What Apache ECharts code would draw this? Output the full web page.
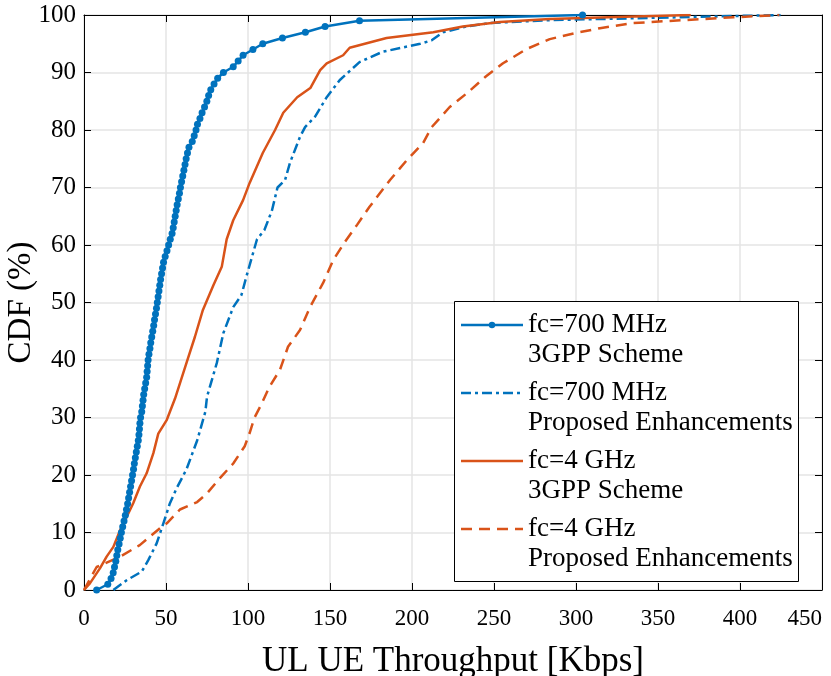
<!DOCTYPE html>
<html>
<head>
<meta charset="utf-8">
<script src="https://cdn.jsdelivr.net/npm/echarts@6/dist/echarts.min.js"></script>
<style>
html,body{margin:0;padding:0;background:#fff;}
#chart{width:831px;height:676px;}
</style>
</head>
<body>
<div id="chart"></div>
<script>
// ---- Data ----
const seriesNames = [
  'fc=700 MHz\n3GPP Scheme',
  'fc=700 MHz\nProposed Enhancements',
  'fc=4 GHz\n3GPP Scheme',
  'fc=4 GHz\nProposed Enhancements'
];

// fc=700 MHz, 3GPP Scheme (CDF level y in %, throughput x in Kbps)
const b3gppY = [0,1,2,3,4,5,6,7,8,9,10,11,12,13,14,15,16,17,18,19,20,21,22,23,24,25,26,27,28,29,30,31,32,33,34,35,36,37,38,39,40,41,42,43,44,45,46,47,48,49,50,51,52,53,54,55,56,57,58,59,60,61,62,63,64,65,66,67,68,69,70,71,72,73,74,75,76,77,78,79,80,81,82,83,84,85,86,87,88,89,90,91,92,93,94,95,96,97,98,99,100];
const b3gppX = [7.7,14.5,16.5,17.8,18.6,19.4,20,20.6,21.4,22.1,22.8,23.6,24.4,25.2,25.9,26.6,27.2,27.8,28.4,29,29.6,30.2,30.7,31.3,31.9,32.5,33.1,33.5,33.8,34.1,34.5,35.2,35.6,36,36.4,37,37.6,38.2,38.5,38.8,39.1,39.6,40.2,40.7,41.3,41.9,42.5,43,43.6,44.2,44.7,45.2,45.7,46.2,46.7,47.3,47.9,48.5,49.5,50.6,51.6,52.6,53.7,54.4,55,55.6,56.2,56.8,57.5,58.2,58.8,59.5,60.2,60.9,61.6,62.3,63.1,64,66,67.2,68.3,69.2,70.7,72,73.5,74.9,76,77.3,79.3,81.5,85,91,94,97,103,109,121,135,147,168,304];

// fc=700 MHz, Proposed Enhancements
const bPropX = [17.9,26,35.2,39.2,44.3,48.4,52.4,56.5,62.5,69,74,75,81,85,91,96,99,105.5,110,114.6,118,122.6,125.6,131.7,134.8,140.8,148,156,168,182,205,212,219,233,247.5,284,345,426];
const bPropY = [0,1.7,3.2,5.2,8.1,11.6,15.1,17.7,21,26,31,33.6,39.5,44.7,49.2,51.3,54.5,61,62.6,66,70,71.3,74.3,78.8,80.5,82.3,85.7,88.7,91.8,93.6,95,95.6,97,98,98.6,99.1,99.5,100];

// fc=4 GHz, 3GPP Scheme
const o3gppX = [0,3.7,9.8,13.8,17.9,22,26,30,34.1,38.2,42.3,45.3,50.5,55.5,62.5,67.6,72.5,78.9,84,87,91,97,101,109,116.5,121.5,130,138,144,148,158,162,184.5,213,231,253.6,284,330,370];
const o3gppY = [0,1.2,3.8,5.8,7.5,10.4,12.7,15.1,18,20.3,23.8,27.2,29.6,33.3,39.5,44,48.7,53,56.2,61,64.3,67.8,70.8,76,80,83,85.7,87.3,90.4,91.6,93,94.3,96,97,98,98.8,99.3,99.7,100];

// fc=4 GHz, Proposed Enhancements
const oPropX = [0,7.7,22,34,47.4,50.5,58.5,69,75,83,91,98,101,104,108.5,113,119.5,124.4,131.7,137.8,145.8,152,159,166.5,174,186.6,197,206.7,212,223,233.5,245,255.5,270,284,300,314.6,335,365,396,424];
const oPropY = [0,4,5.8,7.8,11,11.6,14,15.3,16.8,19.5,22,25,27.3,30,32.5,35.3,38.3,42.3,45.2,49.2,53.4,57.4,60.5,63.5,66.6,71.3,74.8,77.7,80.5,84,86.4,89.3,91.6,94.1,95.8,96.9,97.7,98.6,99.1,99.6,100];

// Axis ranges
const xMin = 0, xMax = 450, xStep = 50;
const yMin = 0, yMax = 100, yStep = 10;

// ---- Chart ----
const pairs = (xs, ys) => xs.map((x, i) => [x, ys[i]]);
const BLUE = '#0072BD', ORANGE = '#D95319';
const FONT = "'Liberation Serif', 'DejaVu Serif', serif";
const DASHDOT = [10, 4, 3, 4];
const DASHED = [11, 7];

const seriesStyles = [
  {color: BLUE, dash: null, marker: true},
  {color: BLUE, dash: DASHDOT, marker: false},
  {color: ORANGE, dash: null, marker: false},
  {color: ORANGE, dash: DASHED, marker: false}
];

const chart = echarts.init(document.getElementById('chart'), null, {renderer: 'canvas'});

const axisCommon = {
  type: 'value',
  axisLine: {show: true, onZero: false, lineStyle: {color: '#000', width: 1}},
  axisTick: {show: true, inside: true, length: 7, lineStyle: {color: '#000', width: 1}},
};

// Legend drawn as a boxed key (MATLAB style: line sample beside first text line)
const legBox = {x: 454, y: 301, w: 344, h: 280};
const legFirst = 325, legPitch = 68, legLine = 30;
const legendGraphics = [{
  type: 'rect', z: 100,
  shape: {x: legBox.x + 0.5, y: legBox.y + 0.5, width: legBox.w, height: legBox.h},
  style: {fill: '#fff', stroke: '#000', lineWidth: 1}
}];
seriesNames.forEach((name, i) => {
  const cy = legFirst + legPitch * i;
  const st = seriesStyles[i];
  legendGraphics.push({
    type: 'line', z: 101,
    shape: {x1: 461, y1: cy, x2: 523, y2: cy},
    style: {stroke: st.color, lineWidth: 2.5, lineDash: st.dash || null}
  });
  if (st.marker) {
    legendGraphics.push({
      type: 'circle', z: 102,
      shape: {cx: 492, cy: cy, r: 3.2},
      style: {fill: st.color}
    });
  }
  legendGraphics.push({
    type: 'text', z: 101,
    x: 528, y: cy - legLine / 2,
    style: {text: name, fill: '#000', font: '27px ' + FONT, lineHeight: legLine, verticalAlign: 'top', textAlign: 'left'}
  });
});

const option = {
  animation: false,
  backgroundColor: '#fff',
  grid: {left: 84, right: 9, top: 15, bottom: 86, containLabel: false, outerBoundsMode: 'none'},
  xAxis: [
    Object.assign({}, axisCommon, {
      position: 'bottom', min: xMin, max: xMax, interval: xStep,
      axisLabel: {color: '#000', fontSize: 23, fontFamily: FONT, margin: 17, alignMaxLabel: 'right'},
      splitLine: {show: true, lineStyle: {color: '#e4e4e4', width: 1.5}},
      name: 'UL UE Throughput [Kbps]', nameLocation: 'middle', nameGap: 54, nameMoveOverlap: false,
      nameTextStyle: {color: '#000', fontSize: 35, fontFamily: FONT}
    }),
    Object.assign({}, axisCommon, {
      position: 'top', min: xMin, max: xMax, interval: xStep,
      axisLabel: {show: false}, splitLine: {show: false}
    })
  ],
  yAxis: [
    Object.assign({}, axisCommon, {
      position: 'left', min: yMin, max: yMax, interval: yStep,
      axisLabel: {color: '#000', fontSize: 25, fontFamily: FONT, margin: 8},
      splitLine: {show: true, lineStyle: {color: '#e4e4e4', width: 1.5}},
      name: 'CDF (%)', nameLocation: 'middle', nameGap: 46, nameMoveOverlap: false,
      nameTextStyle: {color: '#000', fontSize: 33, fontFamily: FONT}
    }),
    Object.assign({}, axisCommon, {
      position: 'right', min: yMin, max: yMax, interval: yStep,
      axisLabel: {show: false}, splitLine: {show: false}
    })
  ],
  graphic: legendGraphics,
  series: [
    {
      name: seriesNames[0], type: 'line', data: pairs(b3gppX, b3gppY),
      symbol: 'circle', symbolSize: 7, showSymbol: true,
      lineStyle: {color: BLUE, width: 2.5}, itemStyle: {color: BLUE}, color: BLUE
    },
    {
      name: seriesNames[1], type: 'line', data: pairs(bPropX, bPropY),
      symbol: 'none',
      lineStyle: {color: BLUE, width: 2.5, type: DASHDOT}, itemStyle: {color: BLUE}, color: BLUE
    },
    {
      name: seriesNames[2], type: 'line', data: pairs(o3gppX, o3gppY),
      symbol: 'none',
      lineStyle: {color: ORANGE, width: 2.5}, itemStyle: {color: ORANGE}, color: ORANGE
    },
    {
      name: seriesNames[3], type: 'line', data: pairs(oPropX, oPropY),
      symbol: 'none',
      lineStyle: {color: ORANGE, width: 2.5, type: DASHED}, itemStyle: {color: ORANGE}, color: ORANGE
    }
  ]
};
chart.setOption(option);
</script>
</body>
</html>
